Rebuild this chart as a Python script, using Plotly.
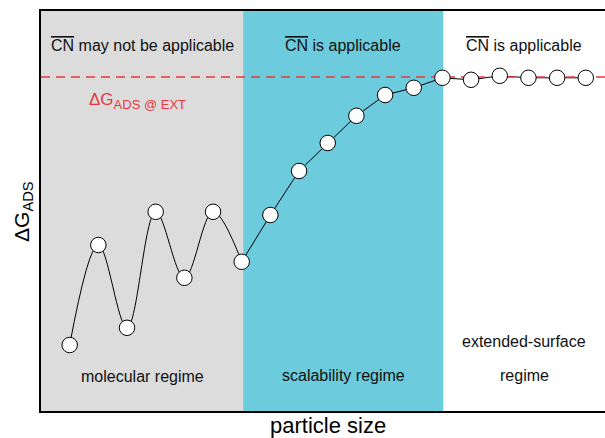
import plotly.graph_objects as go

# ---- data ----
size_index = list(range(1, 20))
dg_ads = [16.5, 41.5, 20.8, 49.8, 33.3, 49.8, 37.3,
          49.0, 60.0, 67.0, 73.8, 79.0, 80.8, 83.3,
          82.8, 83.8, 83.3, 83.3, 83.3]
dg_ext = 83.5
molecular_end = 7.05
scalability_end = 14.03
x_max = 19.67

FONT = "Liberation Sans, Arial, sans-serif"
GREY = "#dcdcdc"
CYAN = "#6ccbdc"
RED = "#e8383d"

fig = go.Figure()

# molecular regime: smooth curve
fig.add_trace(go.Scatter(x=size_index[:7], y=dg_ads[:7], mode="lines",
                         line=dict(color="black", width=1, shape="spline", smoothing=1.0),
                         hoverinfo="skip", showlegend=False))
# rest: straight segments
fig.add_trace(go.Scatter(x=size_index[6:], y=dg_ads[6:], mode="lines",
                         line=dict(color="black", width=1),
                         hoverinfo="skip", showlegend=False))
# extended-surface reference line
fig.add_trace(go.Scatter(x=[0, x_max], y=[dg_ext, dg_ext], mode="lines",
                         line=dict(color=RED, width=1.5, dash="9px,6px"),
                         hoverinfo="skip", showlegend=False))
# markers
fig.add_trace(go.Scatter(x=size_index, y=dg_ads, mode="markers",
                         marker=dict(size=15.5, color="white", line=dict(color="black", width=1)),
                         showlegend=False))

# regime backgrounds
fig.add_shape(type="rect", xref="x", yref="paper", x0=0, x1=molecular_end, y0=0, y1=1,
              fillcolor=GREY, line_width=0, layer="below")
fig.add_shape(type="rect", xref="x", yref="paper", x0=molecular_end, x1=scalability_end, y0=0, y1=1,
              fillcolor=CYAN, line_width=0, layer="below")

OL = '<span style="text-decoration:overline">CN</span>'
labels = [
    ((0 + molecular_end) / 2, 91.5, OL + " may not be applicable"),
    ((molecular_end + scalability_end) / 2, 91.5, OL + " is applicable"),
    ((scalability_end + x_max) / 2, 91.5, OL + " is applicable"),
    ((0 + molecular_end) / 2, 8.6, "molecular regime"),
    ((molecular_end + scalability_end) / 2, 8.8, "scalability regime"),
    ((scalability_end + x_max) / 2, 17.5, "extended-surface"),
    ((scalability_end + x_max) / 2, 8.8, "regime"),
]
for xx, yy, t in labels:
    fig.add_annotation(x=xx, y=yy, xref="x", yref="y", text=t, showarrow=False,
                       font=dict(family=FONT, size=16, color="#111111"))

fig.add_annotation(x=3.35, y=77.6, xref="x", yref="y",
                   text='ΔG<sub><span style="font-size:13px">ADS @ EXT</span></sub>',
                   showarrow=False, font=dict(family=FONT, size=17, color=RED))

# axis titles
fig.add_annotation(x=(328 - 41) / 564, y=-(425.5 - 411) / 400, xref="paper", yref="paper",
                   text="particle size", showarrow=False, xanchor="center", yanchor="middle",
                   font=dict(family=FONT, size=22, color="black"))
fig.add_annotation(xref="paper", yref="paper", x=-0.032, y=0.5, text="ΔG<sub>ADS</sub>",
                   textangle=-90, showarrow=False, xanchor="center", yanchor="middle",
                   font=dict(family=FONT, size=21, color="black"))

fig.update_layout(
    width=605, height=438,
    margin=dict(l=41, r=0, t=11, b=27),
    paper_bgcolor="white", plot_bgcolor="white",
    xaxis=dict(range=[0, x_max], showgrid=False, zeroline=False, showticklabels=False,
               ticks="", showline=True, linecolor="black", linewidth=1.5, mirror=True),
    yaxis=dict(range=[0, 100], showgrid=False, zeroline=False, showticklabels=False,
               ticks="", showline=True, linecolor="black", linewidth=1.5, mirror=False),
    showlegend=False,
)

fig.write_html("out.html")
